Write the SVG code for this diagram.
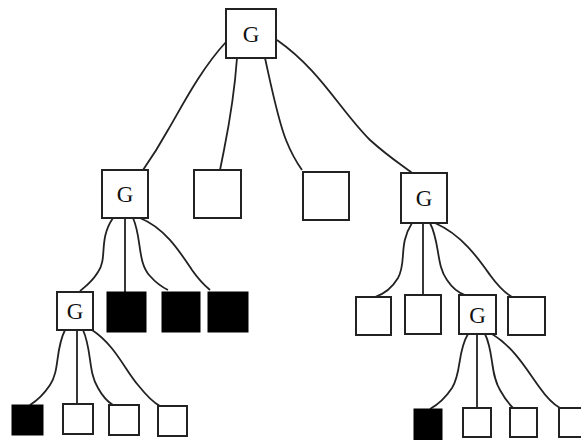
<svg xmlns="http://www.w3.org/2000/svg" width="581" height="440" viewBox="0 0 581 440">
<style>
.b{fill:#fff;stroke:#222;stroke-width:2}
.k{fill:#000;stroke:#000;stroke-width:1}
.t{font-family:"Liberation Serif",serif;font-size:23px;fill:#111;text-anchor:middle}
.e{fill:none;stroke:#222;stroke-width:1.8}
</style>
<rect width="581" height="440" fill="#fff"/>
<g id="connectors">
<path class="e" d="M226,42 C200,70 180,110 168,130 C158,148 150,160 143,170"/>
<path class="e" d="M237,58 C234,100 228,130 224,150 C222,160 221,165 220,170"/>
<path class="e" d="M265,58 C272,90 278,120 286,140 C292,155 297,163 302,170"/>
<path class="e" d="M277,40 C320,70 340,110 370,140 C390,158 402,165 412,173"/>
<path class="e" d="M113,218 C98,240 108,258 98,272 C92,282 86,286 80,291"/>
<path class="e" d="M125,218 L125,292"/>
<path class="e" d="M133,218 C142,238 137,262 150,276 C157,284 162,287 168,290"/>
<path class="e" d="M140,218 C165,228 180,252 192,270 C199,280 204,285 210,290"/>
<path class="e" d="M65,330 C55,350 60,370 50,385 C44,394 38,400 30,405"/>
<path class="e" d="M77,330 L77,404"/>
<path class="e" d="M83,330 C92,350 88,372 98,388 C103,397 108,402 113,405"/>
<path class="e" d="M92,330 C115,345 125,370 138,385 C146,395 152,402 160,406"/>
<path class="e" d="M412,223 C398,245 407,262 398,278 C392,288 384,294 375,297"/>
<path class="e" d="M423,223 L423,295"/>
<path class="e" d="M430,223 C440,242 436,265 447,280 C453,289 459,293 465,295"/>
<path class="e" d="M435,223 C462,235 478,258 490,275 C498,286 505,293 512,297"/>
<path class="e" d="M468,334 C457,352 462,372 452,388 C446,397 439,404 430,409"/>
<path class="e" d="M477,334 L477,408"/>
<path class="e" d="M485,334 C494,352 490,374 500,390 C505,399 509,404 513,408"/>
<path class="e" d="M492,334 C515,348 528,372 540,388 C547,398 553,404 560,408"/>
</g>
<g id="n0"><rect class="b" x="226" y="9" width="50" height="49"/><text class="t" x="251" y="42">G</text></g>
<g id="n1"><rect class="b" x="102" y="170" width="46" height="48"/><text class="t" x="125" y="202">G</text></g>
<g id="n2"><rect class="b" x="194" y="170" width="47" height="48"/></g>
<g id="n3"><rect class="b" x="303" y="172" width="46" height="48"/></g>
<g id="n4"><rect class="b" x="401" y="173" width="46" height="50"/><text class="t" x="424" y="206">G</text></g>
<g id="n5"><rect class="b" x="57" y="292" width="36" height="38"/><text class="t" x="75" y="319">G</text></g>
<g id="n6"><rect class="k" x="107" y="292" width="39" height="40"/></g>
<g id="n7"><rect class="k" x="162" y="292" width="38" height="40"/></g>
<g id="n8"><rect class="k" x="208" y="292" width="40" height="40"/></g>
<g id="n9"><rect class="b" x="356" y="297" width="35" height="38"/></g>
<g id="n10"><rect class="b" x="405" y="295" width="36" height="39"/></g>
<g id="n11"><rect class="b" x="459" y="295" width="37" height="39"/><text class="t" x="477.5" y="323">G</text></g>
<g id="n12"><rect class="b" x="508" y="297" width="37" height="38"/></g>
<g id="n13"><rect class="k" x="12" y="405" width="31" height="30"/></g>
<g id="n14"><rect class="b" x="63" y="404" width="30" height="30"/></g>
<g id="n15"><rect class="b" x="109" y="405" width="30" height="30"/></g>
<g id="n16"><rect class="b" x="158" y="406" width="29" height="30"/></g>
<g id="n17"><rect class="k" x="414" y="409" width="28" height="31"/></g>
<g id="n18"><rect class="b" x="463" y="408" width="28" height="29"/></g>
<g id="n19"><rect class="b" x="510" y="408" width="27" height="29"/></g>
<g id="n20"><rect class="b" x="559" y="408" width="30" height="29"/></g>
</svg>
